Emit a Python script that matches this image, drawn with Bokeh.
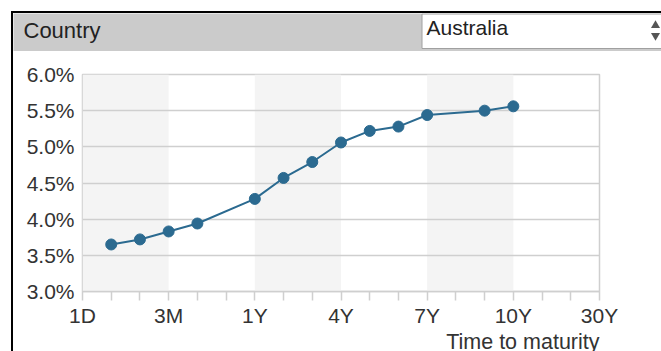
from bokeh.plotting import figure
from bokeh.layouts import column
from bokeh.models import Range1d, FixedTicker, PrintfTickFormatter, Title
from bokeh.core.properties import value
from bokeh.embed import file_html
from bokeh.resources import INLINE

# Tenor axis (evenly spaced positions) and the labelled subset
tenors = ["1D", "1W", "1M", "3M", "6M", "9M", "1Y", "2Y", "3Y", "4Y",
          "5Y", "6Y", "7Y", "8Y", "9Y", "10Y", "15Y", "20Y", "30Y"]
labelled = ["1D", "3M", "1Y", "4Y", "7Y", "10Y", "30Y"]
shaded_bands = [("1D", "3M"), ("1Y", "4Y"), ("7Y", "10Y")]

# Australian yield curve
maturities = ["1W", "1M", "3M", "6M", "1Y", "2Y", "3Y", "4Y", "5Y", "6Y", "7Y", "9Y", "10Y"]
yields_pct = [3.65, 3.72, 3.83, 3.94, 4.28, 4.57, 4.79, 5.06, 5.22, 5.28, 5.44, 5.50, 5.56]
y_ticks = [3.0, 3.5, 4.0, 4.5, 5.0, 5.5, 6.0]

FONT = "Liberation Sans"
TEXT = "#333333"
LINE = "#2b6a90"
GRID = "#cfcfcf"

PAGE_W, PAGE_H = 661, 351
INSET = 13                      # panel starts inside a black frame line
HEAD_BOTTOM = 51                # header band ends here (page px)
W = PAGE_W - INSET

# ---- header band with the "Country" selector (drawn in page pixels) ----
head = figure(width=W, height=HEAD_BOTTOM - INSET,
              x_range=Range1d(INSET, PAGE_W), y_range=Range1d(HEAD_BOTTOM, INSET),
              x_axis_type=None, y_axis_type=None,
              output_backend="svg", toolbar_location=None, min_border=0)
head.grid.visible = False
head.outline_line_color = None
head.background_fill_color = "#cbcbcb"
head.border_fill_color = "#cbcbcb"
head.quad(left=421.5, right=PAGE_W + 10, top=13.5, bottom=48, fill_color="white",
          line_color="#a0a0a0", line_width=1)
head.text(x=[23], y=[30], text=["Country"], text_font=value(FONT), text_font_size="22px",
          text_color="#222222", text_baseline="middle")
head.text(x=[426], y=[27], text=["Australia"], text_font=value(FONT), text_font_size="21px",
          text_color="#222222", text_baseline="middle")
head.scatter(x=[655], y=[25], marker="triangle", size=9, fill_color="#555555", line_color=None)
head.scatter(x=[655], y=[35], marker="inverted_triangle", size=9, fill_color="#555555", line_color=None)

# ---- yield curve ----
pos = {t: i for i, t in enumerate(tenors)}
xs = [pos[m] for m in maturities]

FL, FR, FT, FB = 82, 599, 74, 292          # plot frame edges in page pixels
p = figure(width=W, height=PAGE_H - HEAD_BOTTOM,
           x_range=Range1d(0, len(tenors) - 1), y_range=Range1d(y_ticks[0], y_ticks[-1]),
           output_backend="svg", toolbar_location=None,
           min_border_left=FL - INSET, min_border_right=PAGE_W - FR,
           min_border_top=FT - HEAD_BOTTOM, min_border_bottom=PAGE_H - FB)
p.background_fill_color = "white"
p.border_fill_color = "white"
p.outline_line_color = GRID
p.outline_line_width = 1.5

# each figure keeps its own frame inside the column
for fig in (head, p):
    if "frame_align" in fig.properties():
        fig.frame_align = False

# alternating shaded columns
bands = p.quad(left=[pos[a] for a, b in shaded_bands], right=[pos[b] for a, b in shaded_bands],
               bottom=y_ticks[0], top=y_ticks[-1], fill_color="#f4f4f4", line_color=None)
bands.level = "image"

p.xgrid.grid_line_color = None
p.ygrid.grid_line_color = GRID
p.ygrid.grid_line_width = 1.5

p.xaxis.ticker = FixedTicker(ticks=list(range(len(tenors))))
p.xaxis.major_label_overrides = {i: (t if t in labelled else "") for i, t in enumerate(tenors)}
p.xaxis.axis_line_color = GRID
p.xaxis.axis_line_width = 1.5
p.xaxis.major_tick_line_color = GRID
p.xaxis.major_tick_line_width = 1.5
p.xaxis.major_tick_in = 0
p.xaxis.major_tick_out = 9
p.xaxis.minor_tick_line_color = None
p.xaxis.major_label_standoff = 3

p.yaxis.ticker = FixedTicker(ticks=y_ticks)
p.yaxis.formatter = PrintfTickFormatter(format="%.1f%%")
p.yaxis.axis_line_color = None
p.yaxis.major_tick_line_color = None
p.yaxis.minor_tick_line_color = None
p.yaxis.major_label_standoff = 2

for ax in (p.xaxis, p.yaxis):
    ax.major_label_text_font = FONT
    ax.major_label_text_font_size = "21px"
    ax.major_label_text_color = TEXT

p.line(xs, yields_pct, line_color=LINE, line_width=2)
p.scatter(xs, yields_pct, size=11, fill_color=LINE, line_color=LINE)

# axis caption, right-aligned under the frame; it runs off the bottom edge of the panel
p.add_layout(Title(text="Time to maturity", align="right", text_font=FONT,
                   text_font_size="21.5px", text_font_style="normal", text_color=TEXT,
                   text_line_height=1.0, standoff=-4, offset=0), "below")

# panel sits inside a thin black frame on its top and left edges
layout = column(head, p, spacing=0)
layout.styles = {"box-shadow": "0 0 0 2px #000000"}
if "margin" in layout.properties():
    layout.margin = (INSET, 0, 0, INSET)
else:
    layout.styles = {"box-shadow": "0 0 0 2px #000000",
                     "margin-left": f"{INSET}px", "margin-top": f"{INSET}px"}

open("out.html", "w").write(file_html(layout, INLINE))
